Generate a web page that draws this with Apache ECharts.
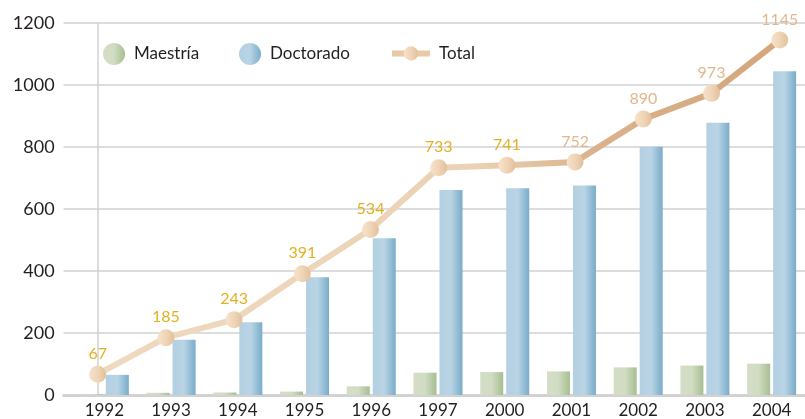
<!DOCTYPE html>
<html>
<head>
<meta charset="utf-8">
<script src="https://cdn.jsdelivr.net/npm/echarts@6/dist/echarts.min.js"></script>
<style>
  html, body { margin: 0; padding: 0; background: #fff; }
  #chart { width: 805px; height: 419px; }
</style>
</head>
<body>
<div id="chart"></div>
<script>
const years = ['1992', '1993', '1994', '1995', '1996', '1997', '2000', '2001', '2002', '2003', '2004'];
const maestria = [2, 7, 8, 11, 28, 72, 74, 76, 89, 95, 101];
const doctorado = [65, 178, 235, 380, 506, 661, 667, 676, 801, 878, 1044];
const total = [67, 185, 243, 391, 534, 733, 741, 752, 890, 973, 1145];
const yTicks = [0, 200, 400, 600, 800, 1000, 1200];

const font = 'Lato, "Open Sans", sans-serif';
const hGrad = (stops) => new echarts.graphic.LinearGradient(0, 0, 1, 0,
  stops.map((c, i) => ({ offset: i / (stops.length - 1), color: c })));

const myChart = echarts.init(document.getElementById('chart'));

const legendBase = {
  top: 43,
  padding: 0,
  itemGap: 0,
  textStyle: { fontFamily: font, fontSize: 17, color: '#231f20', padding: [0, 0, 0, 4] },
  selectedMode: false
};

// line series sits on a value x axis so its points can be spaced on their own
const lineMinX = -0.5;
const lineMaxX = -0.5 + 741.4 / 68.2;

const option = {
  animation: false,
  legend: [
    Object.assign({}, legendBase, { left: 103, data: [{ name: 'Maestría', icon: 'circle' }], itemWidth: 22, itemHeight: 22 }),
    Object.assign({}, legendBase, { left: 239, data: [{ name: 'Doctorado', icon: 'circle' }], itemWidth: 22, itemHeight: 22 }),
    Object.assign({}, legendBase, {
      left: 389, top: 45, data: ['Total'], itemWidth: 38, itemHeight: 18,
      lineStyle: { width: 6, color: '#e8caa6' }
    })
  ],
  grid: [
    { left: 71, top: 23, right: 0, height: 372 },
    { left: 63.6, top: 23, right: 0, height: 372 }
  ],
  xAxis: [
    {
      type: 'category', gridIndex: 0, data: years,
      axisLine: { show: false }, axisTick: { show: false },
      axisLabel: { fontFamily: font, fontSize: 17, color: '#231f20', margin: 7 }
    },
    {
      type: 'value', gridIndex: 1, min: lineMinX, max: lineMaxX,
      axisLine: { show: true, onZero: false, lineStyle: { color: '#d2d2d2', width: 3 } },
      axisTick: { show: false }, axisLabel: { show: false }, splitLine: { show: false }
    }
  ],
  yAxis: [
    { type: 'value', gridIndex: 0, min: 0, max: 1200, interval: 200, show: false },
    {
      type: 'value', gridIndex: 1, min: 0, max: 1200, interval: 200,
      axisLine: { show: true, lineStyle: { color: '#d2d2d2', width: 1.5 } },
      axisTick: { show: false },
      splitLine: { lineStyle: { color: '#d2d2d2', width: 1.5 } },
      axisLabel: {
        fontFamily: font, fontSize: 18, color: '#231f20', margin: 9,
        formatter: (v) => yTicks.includes(v) ? String(v) : ''
      }
    }
  ],
  series: [
    {
      name: 'Maestría', type: 'bar', xAxisIndex: 0, yAxisIndex: 0,
      data: maestria, barWidth: 23, barGap: '13%',
      itemStyle: { color: hGrad(['#d4dec7', '#d1dcc2', '#a6be91']) }
    },
    {
      name: 'Doctorado', type: 'bar', xAxisIndex: 0, yAxisIndex: 0,
      data: doctorado, barWidth: 23,
      itemStyle: { color: hGrad(['#b3d0e2', '#b8d4e5', '#79acc9']) }
    },
    {
      name: 'Total', type: 'line', xAxisIndex: 1, yAxisIndex: 1, z: 5,
      data: total.map((v, i) => ({
        value: [i, v],
        label: { color: i >= 7 ? '#e2b78e' : '#e3b022' }
      })),
      symbol: 'circle', symbolSize: 17,
      itemStyle: { color: hGrad(['#f6e2cb', '#efd5b7', '#e2c09a']) },
      lineStyle: {
        width: 6,
        color: new echarts.graphic.LinearGradient(0, 0, 1, 0, [
          { offset: 0, color: '#efd9bf' },
          { offset: 0.55, color: '#ebd2b4' },
          { offset: 0.72, color: '#dab28c' },
          { offset: 1, color: '#d4a77c' }
        ])
      },
      label: {
        show: true, position: 'top', distance: 4,
        fontFamily: font, fontSize: 16,
        formatter: (p) => String(p.value[1])
      }
    }
  ]
};

myChart.setOption(option);
</script>
</body>
</html>
